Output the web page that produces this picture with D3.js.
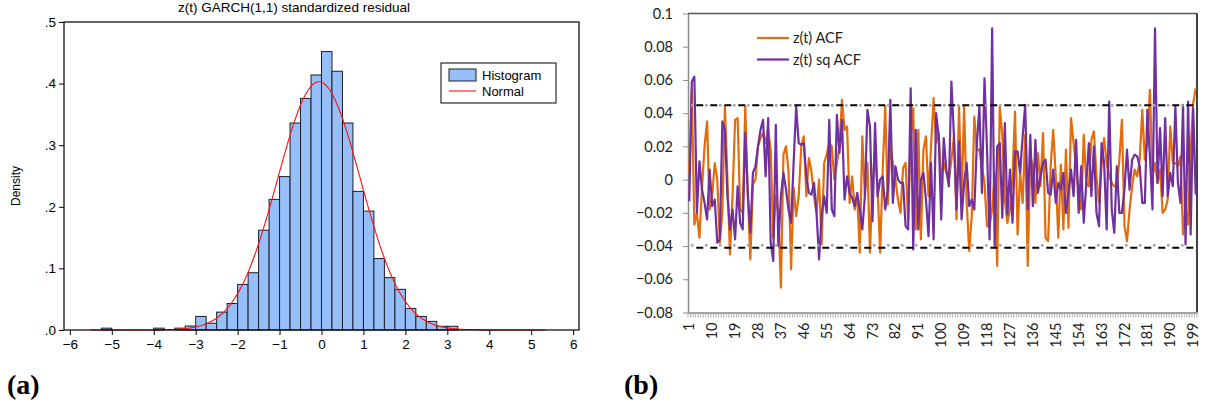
<!DOCTYPE html>
<html>
<head>
<meta charset="utf-8">
<script src="https://cdn.jsdelivr.net/npm/d3@7"></script>
<style>
  body { margin: 0; background: #fff; }
  text { font-family: "Liberation Sans", Arial, sans-serif; }
  .xl text { font-family: Lato, "Liberation Sans", sans-serif; }
</style>
</head>
<body>
<svg id="chart" width="1214" height="412"></svg>
<script>
// ---- panel (a): histogram of standardized residuals ----
const binStarts = [-5.25, -4, -3.5, -3.25, -3, -2.75, -2.5, -2.25, -2, -1.75, -1.5, -1.25, -1, -0.75,
  -0.5, -0.25, 0, 0.25, 0.5, 0.75, 1, 1.25, 1.5, 1.75, 2, 2.25, 2.5, 2.75, 3];
const binDensity = [0.003, 0.003, 0.003, 0.0065, 0.022, 0.011, 0.029, 0.043, 0.074, 0.093, 0.162, 0.212, 0.249, 0.336,
  0.376, 0.414, 0.452, 0.420, 0.336, 0.225, 0.193, 0.116, 0.085, 0.066, 0.035, 0.022, 0.014, 0.006, 0.006];
const binWidth = 0.25;
const normalMean = -0.06, normalSd = 0.99, normalFrom = -5.5, normalTo = 5.35;
const histXTicks = [-6, -5, -4, -3, -2, -1, 0, 1, 2, 3, 4, 5, 6];
const histYTicks = [0, 0.1, 0.2, 0.3, 0.4, 0.5];

// ---- panel (b): autocorrelations, lags 1..200 ----
const acfZ = [
  0.004, 0.054, -0.027, -0.020, -0.035, -0.005, 0.020, 0.035, -0.018, -0.010,
  0.010, 0.000, -0.038, -0.020, 0.044, 0.000, -0.045, -0.010, 0.036, 0.037,
  -0.018, -0.020, 0.044, -0.010, -0.048, -0.003, 0.000, 0.020, 0.025, 0.028,
  0.022, 0.030, 0.018, -0.035, -0.010, -0.020, -0.065, 0.015, 0.020, 0.005,
  -0.054, -0.005, -0.022, -0.010, 0.020, 0.026, -0.010, 0.013, 0.005, -0.010,
  -0.020, 0.000, -0.039, 0.010, 0.015, 0.022, 0.020, 0.000, 0.010, 0.020,
  0.048, 0.030, 0.032, -0.014, 0.002, -0.018, -0.010, -0.044, 0.026, -0.010,
  0.010, -0.044, -0.002, 0.015, -0.005, -0.044, 0.006, 0.044, -0.015, 0.020,
  0.010, 0.000, -0.012, -0.020, 0.007, 0.010, -0.025, 0.025, 0.043, -0.030,
  0.030, -0.036, 0.018, 0.026, -0.010, 0.020, 0.049, 0.022, 0.028, 0.000,
  0.010, 0.004, 0.000, 0.012, 0.026, -0.024, 0.044, -0.014, 0.044, -0.014,
  -0.043, -0.022, 0.038, 0.018, 0.018, 0.008, -0.002, -0.028, -0.028, -0.018,
  0.004, -0.052, 0.044, 0.027, -0.012, -0.026, -0.018, 0.002, 0.041, -0.033,
  0.004, -0.014, 0.027, -0.052, 0.014, 0.008, -0.014, 0.016, -0.004, 0.028,
  -0.035, -0.037, 0.008, 0.030, 0.002, -0.035, 0.009, -0.030, 0.018, -0.029,
  0.037, 0.022, 0.008, -0.010, -0.018, 0.027, -0.002, -0.004, 0.024, 0.029,
  0.002, -0.014, 0.008, 0.025, 0.010, 0.002, -0.002, -0.004, -0.004, 0.012,
  0.036, -0.028, -0.037, -0.018, -0.004, 0.006, 0.002, 0.012, 0.042, 0.012,
  0.022, 0.054, 0.002, 0.010, -0.002, 0.006, -0.020, -0.018, -0.012, 0.032,
  0.010, 0.010, 0.008, 0.014, -0.033, -0.017, -0.027, 0.018, 0.046, 0.055
];
const acfZsq = [
  -0.013, 0.059, 0.062, -0.020, 0.011, -0.006, -0.014, -0.024, 0.006, -0.016,
  -0.012, -0.038, -0.036, 0.035, 0.030, -0.010, -0.030, -0.018, -0.036, -0.004,
  -0.026, -0.030, 0.028, -0.008, -0.032, 0.004, 0.008, 0.020, 0.030, 0.036,
  0.002, 0.037, -0.038, -0.049, 0.033, -0.040, -0.010, 0.004, -0.006, -0.018,
  -0.026, 0.010, 0.044, 0.022, 0.021, 0.022, 0.002, -0.008, -0.009, -0.002,
  -0.020, -0.048, -0.022, -0.010, -0.020, 0.036, -0.018, -0.022, 0.039, 0.016,
  0.036, -0.012, 0.002, -0.008, -0.011, -0.016, -0.008, -0.018, -0.030, -0.010,
  0.042, 0.032, -0.025, 0.034, -0.010, 0.000, 0.002, -0.018, -0.006, 0.048,
  -0.014, 0.008, 0.000, -0.002, -0.002, -0.028, -0.030, 0.055, -0.042, 0.030,
  -0.030, 0.000, 0.004, -0.012, -0.034, 0.010, -0.036, 0.040, 0.026, -0.024,
  0.025, 0.006, -0.004, 0.059, 0.026, -0.018, 0.023, -0.024, -0.002, 0.010,
  -0.016, -0.012, -0.018, 0.022, 0.044, -0.008, 0.061, 0.018, -0.036, 0.091,
  -0.040, 0.020, 0.022, -0.023, 0.034, -0.021, 0.006, -0.026, 0.017, 0.017,
  0.004, 0.026, 0.045, -0.018, 0.027, -0.016, 0.024, -0.008, 0.002, 0.010,
  0.012, -0.008, -0.009, 0.006, -0.014, -0.002, -0.006, 0.004, -0.020, -0.008,
  0.006, -0.010, 0.024, -0.020, 0.008, -0.026, -0.002, 0.022, -0.010, 0.020,
  -0.020, -0.028, 0.022, 0.010, -0.030, 0.047, -0.018, -0.032, 0.008, -0.020,
  -0.020, -0.006, 0.018, -0.006, 0.012, 0.015, 0.014, 0.008, -0.014, -0.014,
  0.042, 0.014, -0.018, 0.091, -0.002, 0.031, -0.010, 0.037, -0.010, 0.004,
  -0.004, 0.044, -0.002, -0.014, 0.045, -0.039, 0.047, -0.033, 0.043, -0.009
];
const lags = d3.range(1, acfZ.length + 1);
const bandUpper = 0.0448, bandLowerDash = -0.0410, bandLowerDot = -0.0395;
const acfYTicks = [-0.08, -0.06, -0.04, -0.02, 0, 0.02, 0.04, 0.06, 0.08, 0.1];

const svg = d3.select("#chart");

// ================= panel (a) =================
const left = { x0: 64, x1: 579, y0: 22, y1: 330 };
const xH = d3.scaleLinear().domain([-6.14, 6.14]).range([left.x0, left.x1]);
const yH = d3.scaleLinear().domain([0, 0.5]).range([left.y1, left.y0]);

const gA = svg.append("g");

gA.selectAll("rect.bar")
  .data(binStarts.map((s, i) => ({ s: s, d: binDensity[i] })))
  .enter()
  .append("rect")
  .attr("class", "bar")
  .attr("x", d => xH(d.s))
  .attr("y", d => yH(d.d))
  .attr("width", d => xH(d.s + binWidth) - xH(d.s))
  .attr("height", d => yH(0) - yH(d.d))
  .attr("fill", "#96bffa")
  .attr("stroke", "#1b1f2b")
  .attr("stroke-width", 1);

const normalPts = d3.range(normalFrom, normalTo + 0.001, 0.02).map(x => [x,
  Math.exp(-0.5 * ((x - normalMean) / normalSd) ** 2) / (normalSd * Math.sqrt(2 * Math.PI))]);
gA.append("path")
  .datum(normalPts)
  .attr("d", d3.line().x(d => xH(d[0])).y(d => yH(d[1])))
  .attr("fill", "none")
  .attr("stroke", "#ff1010")
  .attr("stroke-width", 1.1);

gA.append("rect")
  .attr("x", left.x0).attr("y", left.y0)
  .attr("width", left.x1 - left.x0).attr("height", left.y1 - left.y0)
  .attr("fill", "none").attr("stroke", "#000").attr("stroke-width", 1.2);

gA.append("g")
  .attr("transform", `translate(0,${left.y1})`)
  .call(d3.axisBottom(xH).tickValues(histXTicks).tickSize(5).tickSizeOuter(0).tickPadding(4).tickFormat(d3.format("d")))
  .call(g => g.select(".domain").remove())
  .call(g => g.selectAll("text").style("font-size", "13.5px").attr("fill", "#000"));

gA.append("g")
  .attr("transform", `translate(${left.x0},0)`)
  .call(d3.axisLeft(yH).tickValues(histYTicks).tickSize(5).tickSizeOuter(0).tickPadding(3)
    .tickFormat(d => d3.format(".1f")(d).replace(/^0/, "")))
  .call(g => g.select(".domain").remove())
  .call(g => g.selectAll("text").style("font-size", "13.5px").attr("fill", "#000"));

gA.append("text")
  .attr("transform", "rotate(-90)")
  .attr("x", -186).attr("y", 20)
  .attr("text-anchor", "middle")
  .style("font-size", "12px")
  .text("Density");

gA.append("text")
  .attr("x", 294).attr("y", 12)
  .attr("text-anchor", "middle")
  .style("font-size", "13.5px")
  .text("z(t) GARCH(1,1) standardized residual");

const legA = gA.append("g").attr("transform", "translate(441,63)");
legA.append("rect").attr("width", 115).attr("height", 40)
  .attr("fill", "#fff").attr("stroke", "#000").attr("stroke-width", 1);
legA.append("rect").attr("x", 8).attr("y", 6).attr("width", 27).attr("height", 12)
  .attr("fill", "#96bffa").attr("stroke", "#1b1f2b");
legA.append("line").attr("x1", 8).attr("x2", 35).attr("y1", 28).attr("y2", 28)
  .attr("stroke", "#ff1010").attr("stroke-width", 1.1);
legA.append("text").attr("x", 41).attr("y", 17).style("font-size", "13px").text("Histogram");
legA.append("text").attr("x", 41).attr("y", 33).style("font-size", "13px").text("Normal");

// ================= panel (b) =================
const right = { x0: 688, x1: 1197, y0: 13.5, y1: 312.5 };
const xA = d3.scaleBand().domain(lags).range([right.x0, right.x1]);
const yA = d3.scaleLinear().domain([-0.08, 0.1]).range([right.y1, right.y0]);
const cx = d => xA(d) + xA.bandwidth() / 2;

const gB = svg.append("g").attr("class", "xl");

// border (top and right) and axes
gB.append("line").attr("x1", right.x0).attr("x2", right.x1).attr("y1", right.y0).attr("y2", right.y0)
  .attr("stroke", "#555").attr("stroke-width", 1.3);
gB.append("line").attr("x1", right.x1).attr("x2", right.x1).attr("y1", right.y0).attr("y2", right.y1)
  .attr("stroke", "#000").attr("stroke-width", 1.5);

gB.append("g")
  .attr("transform", `translate(${right.x0},0)`)
  .call(d3.axisLeft(yA).tickValues(acfYTicks).tickSize(5).tickSizeOuter(0).tickPadding(10)
    .tickFormat(d => d === 0 ? "0" : d3.format("")(+d.toFixed(2))))
  .call(g => g.select(".domain").attr("stroke", "#8c8c8c").attr("stroke-width", 1.5))
  .call(g => g.selectAll(".tick line").attr("stroke", "#8c8c8c"))
  .call(g => g.selectAll("text").style("font-size", "14.5px").attr("fill", "#222"));

// category tick marks at band edges
gB.append("g").selectAll("line")
  .data(lags.concat([lags.length + 1]))
  .enter()
  .append("line")
  .attr("x1", d => right.x0 + (d - 1) * xA.bandwidth())
  .attr("x2", d => right.x0 + (d - 1) * xA.bandwidth())
  .attr("y1", right.y1).attr("y2", right.y1 + 5)
  .attr("stroke", "#9a9a9a").attr("stroke-width", 0.8);

gB.append("g")
  .attr("transform", `translate(0,${right.y1})`)
  .call(d3.axisBottom(xA).tickValues(lags.filter(d => (d - 1) % 9 === 0)).tickSize(0).tickSizeOuter(0))
  .call(g => g.select(".domain").attr("stroke", "#8c8c8c").attr("stroke-width", 1.5))
  .call(g => g.selectAll("text")
    .attr("transform", "rotate(-90)")
    .attr("x", -10).attr("y", 0).attr("dy", "0.35em")
    .style("text-anchor", "end")
    .style("font-size", "14.5px").attr("fill", "#222"));

// confidence bands: grey dotted + black dashed
const bandLine = (v, color, dash, w, cap, off) => gB.append("line")
  .attr("x1", cx(lags[0])).attr("x2", cx(lags[lags.length - 1]))
  .attr("y1", yA(v)).attr("y2", yA(v))
  .attr("stroke", color).attr("stroke-width", w)
  .attr("stroke-dasharray", dash).attr("stroke-dashoffset", off)
  .attr("stroke-linecap", cap);

const lineGen = d3.line().x((d, i) => cx(lags[i])).y(d => yA(d));
gB.append("path").datum(acfZ).attr("d", lineGen)
  .attr("fill", "none").attr("stroke", "#e46c0a").attr("stroke-width", 2.2).attr("stroke-linejoin", "round");
gB.append("path").datum(acfZsq).attr("d", lineGen)
  .attr("fill", "none").attr("stroke", "#7030a0").attr("stroke-width", 2.2).attr("stroke-linejoin", "round");

bandLine(bandUpper, "#a6a6a6", "0,14", 3, "round", -3);
bandLine(bandLowerDot, "#a6a6a6", "0,14", 3, "round", -3);
bandLine(bandUpper, "#000", "7,7", 2, "butt", 7);
bandLine(bandLowerDash, "#000", "7,7", 2, "butt", 7);

// legend
const legB = gB.append("g").attr("transform", "translate(757,38)");
legB.append("line").attr("x1", 0).attr("x2", 32).attr("y1", 0).attr("y2", 0)
  .attr("stroke", "#e46c0a").attr("stroke-width", 2.2);
legB.append("line").attr("x1", 0).attr("x2", 32).attr("y1", 21.5).attr("y2", 21.5)
  .attr("stroke", "#7030a0").attr("stroke-width", 2.2);
legB.append("text").attr("x", 36).attr("y", 5).style("font-size", "14.5px").attr("fill", "#222").text("z(t) ACF");
legB.append("text").attr("x", 36).attr("y", 26.5).style("font-size", "14.5px").attr("fill", "#222").text("z(t) sq ACF");

// panel captions
svg.append("text").attr("x", 7).attr("y", 394)
  .style("font-family", "'Liberation Serif', 'DejaVu Serif', serif").style("font-weight", "bold").style("font-size", "28px")
  .text("(a)");
svg.append("text").attr("x", 624).attr("y", 394)
  .style("font-family", "'Liberation Serif', 'DejaVu Serif', serif").style("font-weight", "bold").style("font-size", "28px")
  .text("(b)");
</script>
</body>
</html>
